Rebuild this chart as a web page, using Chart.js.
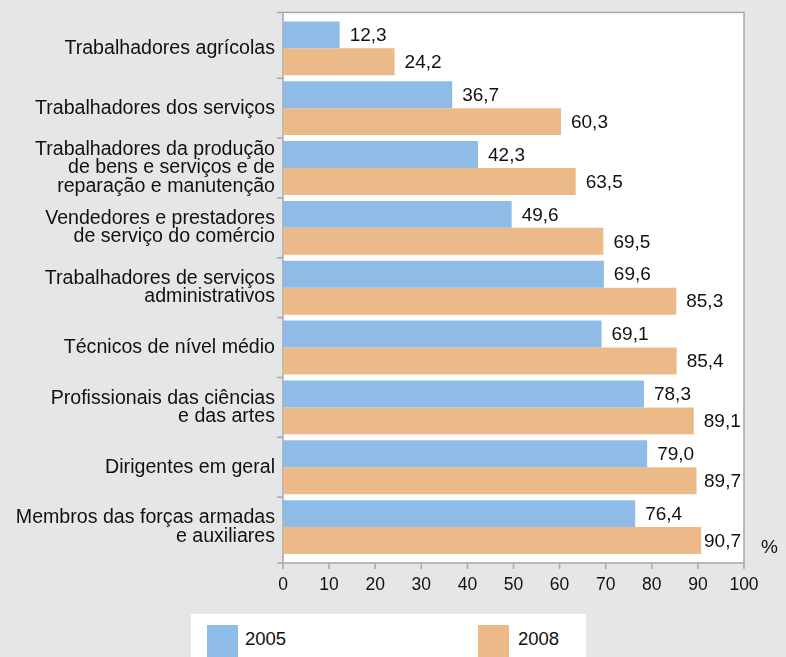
<!DOCTYPE html>
<html>
<head>
<meta charset="utf-8">
<script src="https://cdn.jsdelivr.net/npm/chart.js@4/dist/chart.umd.min.js"></script>
<style>
  body { margin: 0; background: #e5e6e7; }
  #wrap { position: relative; width: 786px; height: 657px; }
  canvas { position: absolute; left: 0; top: 0; }
  .legend { position: absolute; left: 191px; top: 614px; width: 395px; height: 43px; background: #fff; }
  .sw { position: absolute; top: 11px; width: 31px; height: 32px; }
  .lt { position: absolute; top: 14px; font: 18.5px "Liberation Sans", Arial, sans-serif; color: #111; }
</style>
</head>
<body>
<div id="wrap">
  <canvas id="chart" width="786" height="657"></canvas>
  <div class="legend">
    <div class="sw" style="left:16px;background:#8fbce6"></div>
    <div class="lt" style="left:54px">2005</div>
    <div class="sw" style="left:287px;background:#ecba88"></div>
    <div class="lt" style="left:327px">2008</div>
  </div>
</div>
<script>
// categorias (eixo vertical)
const categories = [
    ['Trabalhadores agrícolas'],
    ['Trabalhadores dos serviços'],
    ['Trabalhadores da produção', 'de bens e serviços e de', 'reparação e manutenção'],
    ['Vendedores e prestadores', 'de serviço do comércio'],
    ['Trabalhadores de serviços', 'administrativos'],
    ['Técnicos de nível médio'],
    ['Profissionais das ciências', 'e das artes'],
    ['Dirigentes em geral'],
    ['Membros das forças armadas', 'e auxiliares']
];

// valores (%)
const values2005 = [12.3, 36.7, 42.3, 49.6, 69.6, 69.1, 78.3, 79.0, 76.4];
const values2008 = [24.2, 60.3, 63.5, 69.5, 85.3, 85.4, 89.1, 89.7, 90.7];
const seriesNames = ['2005', '2008'];
const xTicks = [0, 10, 20, 30, 40, 50, 60, 70, 80, 90, 100];

const FONT = '"Liberation Sans", Arial, sans-serif';
const GRAY = '#a5a7aa';

// 🖼 fundo branco da área do gráfico + eixos
const framePlugin = {
    id: 'frame',
    beforeDatasetsDraw(chart) {
        const { ctx, chartArea: a, scales } = chart;
        const top = a.top - 6, bottom = a.bottom + 6;
        ctx.save();
        ctx.fillStyle = '#fff';
        ctx.fillRect(a.left, top, a.right - a.left, bottom - top);
        ctx.strokeStyle = GRAY;
        ctx.lineWidth = 1.5;
        ctx.strokeRect(a.left, top, a.right - a.left, bottom - top);
        // marcas do eixo x
        xTicks.forEach(v => {
            const x = scales.x.getPixelForValue(v);
            ctx.beginPath();
            ctx.moveTo(x, bottom);
            ctx.lineTo(x, bottom + 6);
            ctx.stroke();
        });
        // marcas do eixo y (limites das categorias)
        const y = scales.y;
        const step = (y.getPixelForValue(1) - y.getPixelForValue(0));
        for (let i = 0; i <= categories.length; i++) {
            let py = y.getPixelForValue(0) - step / 2 + i * step;
            if (i === 0) py = top;
            if (i === categories.length) py = bottom;
            ctx.beginPath();
            ctx.moveTo(a.left - 6, py);
            ctx.lineTo(a.left, py);
            ctx.stroke();
        }
        ctx.restore();
    },
    afterDatasetsDraw(chart) {
        const { ctx, chartArea: a } = chart;
        ctx.save();
        ctx.font = '19px ' + FONT;
        ctx.fillStyle = '#111';
        ctx.textBaseline = 'middle';
        chart.data.datasets.forEach((ds, di) => {
            chart.getDatasetMeta(di).data.forEach((bar, i) => {
                const txt = ds.data[i].toFixed(1).replace('.', ',');
                const w = ctx.measureText(txt).width;
                const x = Math.min(bar.x + 10, a.right - 3 - w);
                ctx.fillText(txt, x, bar.y + 1);
            });
        });
        ctx.fillText('%', 761, 548);
        ctx.restore();
    }
};

new Chart(document.getElementById('chart'), {
    type: 'bar',
    data: {
        labels: categories,
        datasets: [
            { label: seriesNames[0], data: values2005, backgroundColor: '#8fbce6' },
            { label: seriesNames[1], data: values2008, backgroundColor: '#ecba88' }
        ]
    },
    options: {
        indexAxis: 'y',
        responsive: false,
        animation: false,
        datasets: { bar: { categoryPercentage: 0.9, barPercentage: 1.0 } },
        layout: { padding: { top: 12, right: 42, left: 0, bottom: 0 } },
        plugins: { legend: { display: false }, tooltip: { enabled: false } },
        scales: {
            x: {
                min: 0, max: 100,
                grid: { display: false },
                border: { display: false },
                ticks: { stepSize: 10, padding: 10, color: '#111', font: { family: FONT, size: 17.5 }, maxRotation: 0 },
                afterFit(scale) { scale.height = 100; }
            },
            y: {
                grid: { display: false },
                border: { display: false },
                ticks: { padding: 0, color: '#111', font: { family: FONT, size: 19.6, lineHeight: 0.94 } },
                afterFit(scale) { scale.width = 283; }
            }
        }
    },
    plugins: [framePlugin]
});
</script>
</body>
</html>
